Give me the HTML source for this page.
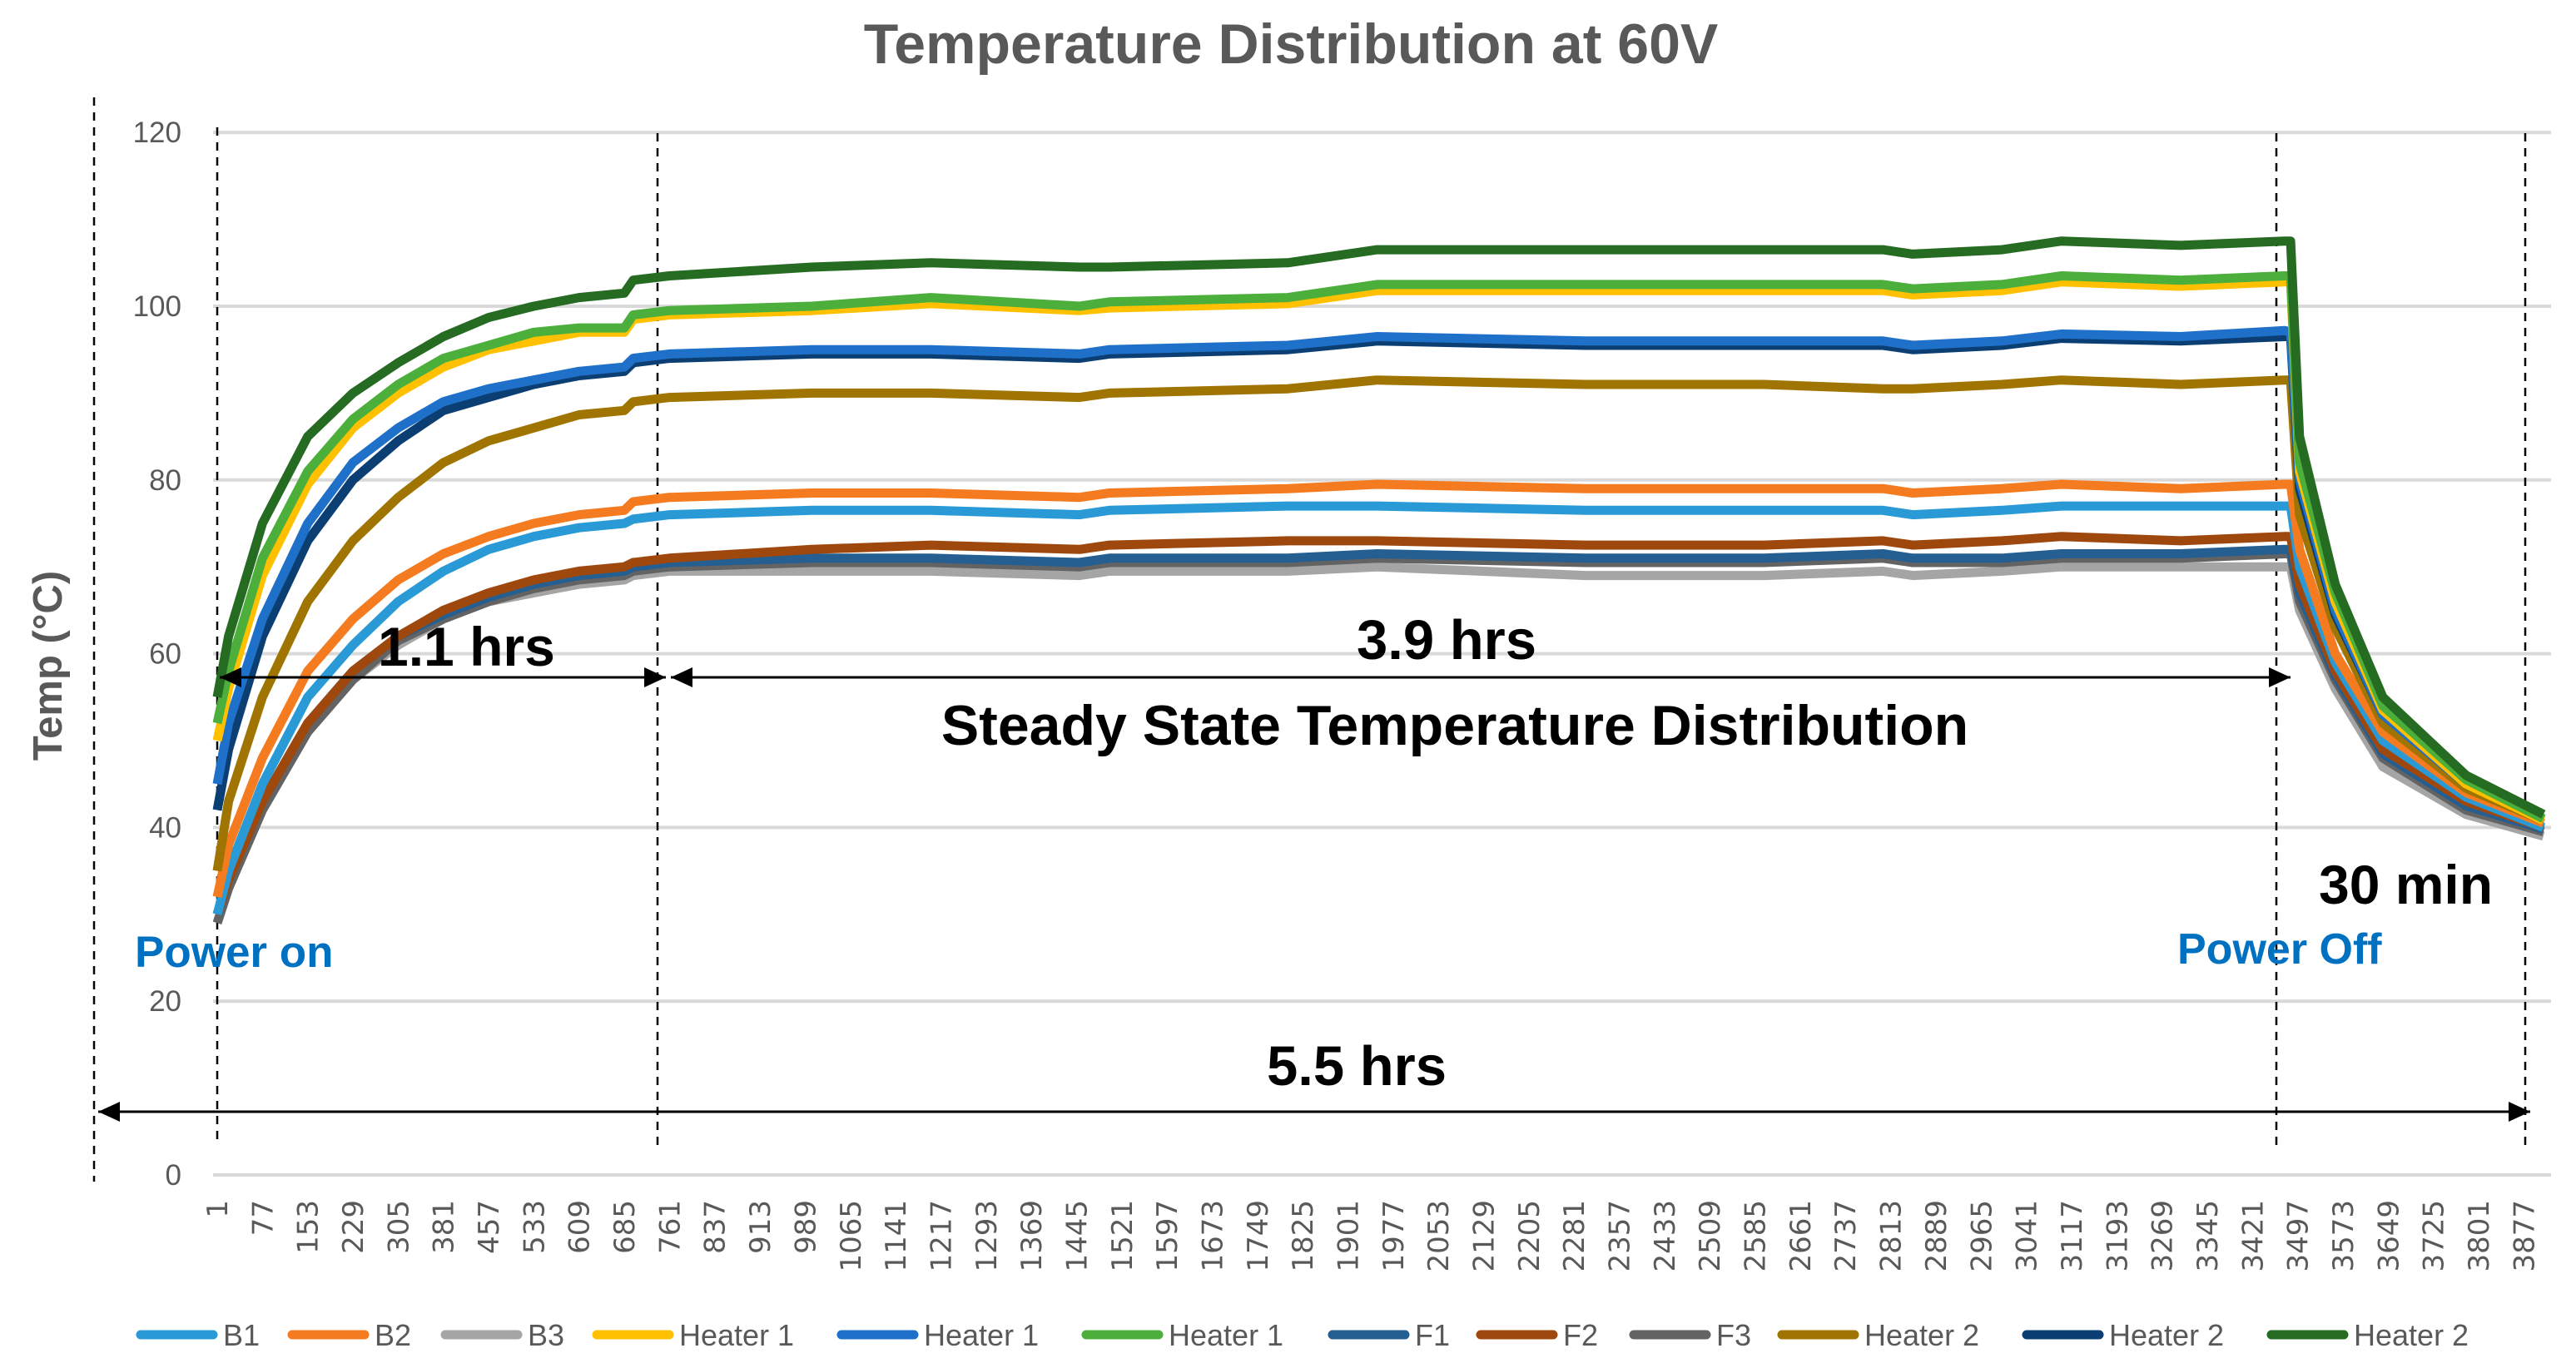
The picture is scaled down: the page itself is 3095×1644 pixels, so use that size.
<!DOCTYPE html>
<html><head><meta charset="utf-8"><style>
html,body{margin:0;padding:0;background:#fff;}
svg{display:block;font-family:"Liberation Sans",sans-serif;}
</style></head><body>
<svg id="chart" width="3095" height="1644" viewBox="0 0 3095 1644" xmlns="http://www.w3.org/2000/svg">
<rect width="3095" height="1644" fill="#fff"/>
<text x="1551" y="76" text-anchor="middle" font-size="68" font-weight="bold" fill="#595959">Temperature Distribution at 60V</text>
<text transform="translate(74,800) rotate(-90)" text-anchor="middle" font-size="49" font-weight="bold" fill="#595959">Temp (°C)</text>
<g id="grid"></g>
<g id="yticks"></g>
<g id="xticks"></g>
<g id="vlines"></g>
<g id="series"></g>
<g id="annot"></g>
<g id="legend"></g>
</svg>
<script>
const yTicks=[0,20,40,60,80,100,120];
const xIdx=[1,20,77,153,229,305,381,457,533,609,685,700,761,1000,1200,1450,1500,1800,1950,2300,2600,2800,2850,3000,3100,3300,3475,3485,3500,3560,3640,3780,3910];
const seriesNames=["B3","F3","F1","F2","B1","B2","Heater 2 (brown)","Heater 2 (navy)","Heater 1 (blue)","Heater 1 (yellow)","Heater 1 (green)","Heater 2 (dark green)"];
const seriesColors=["#a5a5a5","#636363","#255e91","#9e480e","#2a9ad6","#f47b20","#a07400","#0b3f73","#1f70c8","#ffc000","#4caf3c","#266b22"];
const sB3=[29,33,42,51,57,61,64,66,67,68,68.5,69,69.5,69.5,69.5,69,69.5,69.5,70,69,69,69.5,69,69.5,70,70,70,70,65,56,47,41.5,39];
const sF3=[29,33,42,51,57,61.5,64,66,67.5,68.5,69,69.5,70,70.5,70.5,70,70.5,70.5,71,70.5,70.5,71,70.5,70.5,71,71,71.5,71.5,66,57,48,42,39.5];
const sF1=[30,34,43,52,58,62,64.5,66.5,68,69,69.5,70,70.5,71,71,70.5,71,71,71.5,71,71,71.5,71,71,71.5,71.5,72,72,67,57.5,48.5,42.5,39.8];
const sF2=[30,34,43,52,58,62,65,67,68.5,69.5,70,70.5,71,72,72.5,72,72.5,73,73,72.5,72.5,73,72.5,73,73.5,73,73.5,73.5,68,58,49,43,40];
const sB1=[30,35,45,55,61,66,69.5,72,73.5,74.5,75,75.5,76,76.5,76.5,76,76.5,77,77,76.5,76.5,76.5,76,76.5,77,77,77,77,70,59,50,43.5,40];
const sB2=[32,38,48,58,64,68.5,71.5,73.5,75,76,76.5,77.5,78,78.5,78.5,78,78.5,79,79.5,79,79,79,78.5,79,79.5,79,79.5,79.5,72,60,51,44,40.5];
const sH2b=[35,43,55,66,73,78,82,84.5,86,87.5,88,89,89.5,90,90,89.5,90,90.5,91.5,91,91,90.5,90.5,91,91.5,91,91.5,91.5,76,63,52,44.5,40.8];
const sH2n=[42,49,62,73,80,84.5,88,89.5,91,92,92.5,93.5,94,94.5,94.5,94,94.5,95,96,95.5,95.5,95.5,95,95.5,96.3,96,96.5,96.5,79,64.5,53,45,41];
const sH1b=[45,52,64,75,82,86,89,90.5,91.5,92.5,93,94,94.5,95,95,94.5,95,95.5,96.5,96,96,96,95.5,96,96.8,96.5,97.2,97,80,65,53,45,41];
const sH1y=[50,56,69,79.5,86,90,93,95,96,97,97,98.5,99,99.5,100.3,99.5,99.8,100.3,101.8,101.8,101.8,101.8,101.3,101.8,102.8,102.3,102.8,102.8,81,66,53.5,45,40.8];
const sH1g=[52,58,71,81,87,91,94,95.5,97,97.5,97.5,99,99.5,100,101,100,100.5,101,102.5,102.5,102.5,102.5,102,102.5,103.5,103,103.5,103.5,82,67,54,45.5,41];
const sH2g=[55,62,75,85,90,93.5,96.5,98.7,100,101,101.5,103,103.5,104.5,105,104.5,104.5,105,106.5,106.5,106.5,106.5,106,106.5,107.5,107,107.5,107.5,85,68,55,46,41.5];
const allSeries=[sB3,sF3,sF1,sF2,sB1,sB2,sH2b,sH2n,sH1b,sH1y,sH1g,sH2g];
const legendLabels=["B1","B2","B3","Heater 1","Heater 1","Heater 1","F1","F2","F3","Heater 2","Heater 2","Heater 2"];
const legendColors=["#2a9ad6","#f47b20","#a5a5a5","#ffc000","#1f70c8","#4caf3c","#255e91","#9e480e","#636363","#a07400","#0b3f73","#266b22"];
const xLabelStart=1, xLabelStep=76, xLabelEnd=3877;

const NS="http://www.w3.org/2000/svg";
const X0=261, XS=0.715, Y0=1412, YS=10.44;
function xs(i){return X0+(i-1)*XS;}
function ys(v){return Y0-v*YS;}
function mk(tag,attrs,parent){const e=document.createElementNS(NS,tag);for(const k in attrs)e.setAttribute(k,attrs[k]);parent.appendChild(e);return e;}

const grid=document.getElementById('grid'), yt=document.getElementById('yticks');
yTicks.forEach(v=>{
  const l=mk('line',{x1:256,x2:3065,y1:ys(v),y2:ys(v),stroke:'#d9d9d9','stroke-width':4},grid);
  
  
  const t=mk('text',{x:218,y:ys(v)+12,'text-anchor':'end','font-size':35,fill:'#595959'},yt);
  t.textContent=v;
  
  
});
const xt=document.getElementById('xticks');
for(let i=xLabelStart;i<=xLabelEnd;i+=xLabelStep){
  const t=mk('text',{transform:`translate(${xs(i)+12},1442) rotate(-90)`,'text-anchor':'end','font-size':34,fill:'#595959',"font-family":"DejaVu Sans, sans-serif"},xt);
  t.textContent=i;
  
  
}
const vl=document.getElementById('vlines');
[[113,117,1420],[261,153,1370],[790,160,1378],[2735,160,1377],[3034,160,1377]].forEach((d,k)=>{
  const l=mk('line',{x1:d[0],x2:d[0],y1:d[1],y2:d[2],stroke:'#000','stroke-width':2.5,'stroke-dasharray':'10,8'},vl);
  
  
});
const sg=document.getElementById('series');
allSeries.forEach((s,k)=>{
  let d='';
  s.forEach((v,j)=>{d+=(j?'L':'M')+xs(xIdx[j]).toFixed(1)+','+ys(v).toFixed(1);});
  const p=mk('path',{d:d,fill:'none',stroke:seriesColors[k],'stroke-width':11,'stroke-linejoin':'round'},sg);
  
  
});
const an=document.getElementById('annot');
function arrow(x1,x2,y,name,both){
  const g=mk('g',{},an);
  
  
  mk('line',{x1:x1,x2:x2,y1:y,y2:y,stroke:'#000','stroke-width':3},g);
  mk('polygon',{points:`${x2},${y} ${x2-26},${y-12} ${x2-26},${y+12}`,fill:'#000'},g);
  if(both) mk('polygon',{points:`${x1},${y} ${x1+26},${y-12} ${x1+26},${y+12}`,fill:'#000'},g);
}
arrow(264,800,814,'arrow-1-1-hrs',true);
arrow(806,2752,814,'arrow-3-9-hrs',true);
arrow(118,3040,1336,'arrow-5-5-hrs',true);
function txt(x,y,s,size,color,anchor,name){
  const t=mk('text',{x:x,y:y,'font-size':size,'font-weight':'bold',fill:color,'text-anchor':anchor},an);
  t.textContent=s;
  
  
}
txt(454,800,'1.1 hrs',66,'#000','start','label-1-1-hrs');
txt(1738,792,'3.9 hrs',67,'#000','middle','label-3-9-hrs');
txt(1748,895,'Steady State Temperature Distribution',68,'#000','middle','label-steady-state');
txt(162,1162,'Power on',53,'#0070c0','start','label-power-on');
txt(2616,1158,'Power Off',52,'#0070c0','start','label-power-off');
txt(2786,1086,'30 min',66,'#000','start','label-30-min');
txt(1630,1304,'5.5 hrs',67,'#000','middle','label-5-5-hrs');
const lg=document.getElementById('legend');
const lx=[164,346,530,712,1006,1300,1596,1774,1958,2136,2430,2724];
legendLabels.forEach((s,k)=>{
  const g=mk('g',{},lg);
  
  
  mk('line',{x1:lx[k]+5,x2:lx[k]+92,y1:1604,y2:1604,stroke:legendColors[k],'stroke-width':11,'stroke-linecap':'round'},g);
  const t=mk('text',{x:lx[k]+104,y:1617,'font-size':36,fill:'#595959'},g);
  t.textContent=s;
});
</script>
</body></html>
